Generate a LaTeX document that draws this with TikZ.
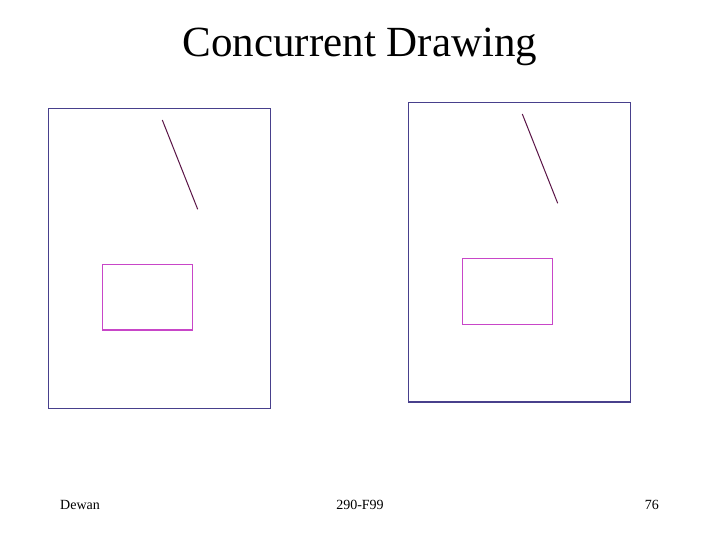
\documentclass[tikz,border=0pt]{standalone}
\usepackage{fontspec}
\setmainfont{Liberation Serif}
\definecolor{framec}{RGB}{72,64,140}
\definecolor{linec}{RGB}{90,20,70}
\definecolor{rectc}{RGB}{200,70,200}
\begin{document}
\begin{tikzpicture}[x=1pt,y=-1pt,
  frame/.style={draw=framec,line width=1.1pt},
  stroke/.style={draw=linec,line width=1pt},
  magrect/.style={draw=rectc,line width=1.1pt},
  foot/.style={font=\fontsize{14}{16}\selectfont,inner sep=0pt}]
\useasboundingbox[fill=white] (0,0) rectangle (720,540);
\node[font=\fontsize{43}{48}\selectfont,inner sep=0pt] (title) at (360,47) {Concurrent Drawing};
% left drawing
\draw[frame] (48.3,108.3) rectangle (270.7,408.3);
\draw[stroke] (162.3,120) -- (197.7,209.3);
\draw[magrect] (102.3,264.3) rectangle (192.3,330);
% right drawing
\draw[frame] (408.3,102.3) rectangle (630.7,402);
\draw[stroke] (522.3,114) -- (557.7,203.3);
\draw[magrect] (462.3,258.3) rectangle (552.3,324.3);
% footer
\node[foot,anchor=base west] (author) at (60,509) {Dewan};
\node[foot,anchor=base] (course) at (360,509) {290-F99};
\node[foot,anchor=base east] (page) at (659,509) {76};
\end{tikzpicture}
\end{document}
